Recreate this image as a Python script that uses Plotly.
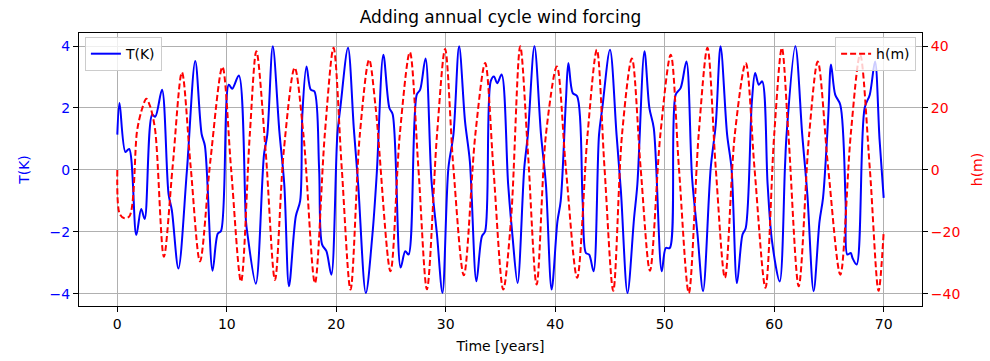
import plotly.graph_objects as go

# Recharge-oscillator run with annual-cycle wind forcing
# Thermocline temperature anomaly T (K)
t_T = [0.0, 0.2, 0.74, 1.08, 1.73, 2.18, 2.5, 3.18, 3.47, 4.08, 4.68, 4.98, 5.58,
       6.35, 7.12, 7.7, 8.0, 8.7, 9.17, 9.48, 10.18, 10.5, 11.1, 11.75, 11.9, 12.65,
       13.4, 13.7, 14.2, 14.8, 15.25, 15.68, 16.3, 16.7, 16.9, 17.28, 17.67, 18.0,
       18.43, 18.7, 19.1, 19.55, 20.1, 20.4, 21.07, 21.6, 22.0, 22.7, 23.3, 23.7,
       24.3, 24.85, 25.15, 25.88, 26.3, 26.6, 27.35, 27.66, 28.15, 28.7, 29.2, 29.7,
       30.24, 30.7, 31.22, 31.76, 32.2, 32.8, 33.3, 33.6, 34.1, 34.4, 34.7, 35.1,
       35.7, 36.1, 36.56, 37.17, 37.5, 38.1, 38.7, 39.15, 39.67, 40.2, 40.5, 40.97,
       41.2, 41.6, 42.0, 42.5, 42.8, 43.1, 43.5, 44.0, 44.3, 45.0, 45.6, 46.0, 46.6,
       47.2, 47.5, 48.15, 48.6, 49.0, 49.73, 50.1, 50.46, 51.0, 51.46, 51.98, 52.5,
       53.0, 53.5, 54.2, 54.66, 55.1, 55.7, 56.1, 56.6, 57.1, 57.4, 57.96, 58.26,
       58.6, 58.9, 59.4, 59.8, 60.5, 60.98, 61.13, 61.93, 62.56, 63.03, 63.6, 64.14,
       64.46, 64.93, 65.19, 65.57, 66.04, 66.52, 66.68, 66.99, 67.15, 67.53, 68.26,
       68.73, 69.21, 69.62, 70.0]
T_vals = [1.14, 2.16, 0.58, 0.68, -2.1, -1.26, -1.58, 1.78, 1.72, 2.59, -0.78, -1.3, -3.18,
          -0.05, 3.52, 1.16, 0.78, -3.25, -2.06, -1.96, 2.75, 2.62, 3.05, -1.66, -2.1, -3.67,
          0.5, 1.14, 3.99, 1.25, -0.47, -3.75, -1.5, -1.0, 1.78, 3.34, 2.59, 2.54,
          0.06, -2.4, -2.62, -3.38, 1.14, 2.1, 3.94, 1.35, -0.47, -3.97, -2.09, -0.1,
          3.72, 2.0, 1.8, -3.15, -2.62, -2.73, 2.43, 2.59, 3.6, -0.37, -2.09, -3.97,
          0.06, 1.14, 3.99, 1.57, 0.28, -3.59, -2.14, -1.98, 2.86, 3.02, 2.8, 3.08,
          -0.47, -2.15, -3.65, 0.06, 1.14, 3.99, 1.14, -0.47, -3.86, -1.66, -1.0, 2.2,
          3.45, 2.48, 2.38, -1.0, -2.68, -2.73, -3.27, 1.14, 2.0, 3.88, 1.14, -0.69, -3.97,
          -1.55, -0.47, 3.83, 2.0, 1.35, -3.27, -2.52, -2.52, 2.43, 2.65, 3.5, -0.26,
          -2.09, -3.91, 0.06, 1.46, 3.99, 1.14, 0.06, -3.65, -2.09, -1.87, 2.2, 3.13,
          2.75, 2.86, -0.47, -2.3, -3.6, 0.06, 1.14, 3.99, 1.14, -0.8, -3.91, -1.66,
          -0.9, 1.68, 3.4, 2.43, 2.1, -1.0, -2.73, -2.68, -2.84, -3.05, 2.0,
          2.43, 3.5, 1.0, -0.9]

# Thermocline depth anomaly h (m)
t_h = [0.0, 0.2, 0.6, 1.1, 1.8, 2.2, 2.65, 3.0, 3.45, 4.25, 5.05, 5.9, 6.7, 7.55,
       8.5, 9.6, 10.4, 11.3, 12.1, 12.7, 13.55, 14.4, 15.2, 16.2, 17.0, 18.05, 18.95,
       19.75, 20.5, 21.3, 22.15, 23.0, 23.6, 24.95, 25.8, 26.72, 27.5, 28.28, 29.2,
       29.94, 30.7, 31.65, 32.7, 33.6, 34.35, 35.25, 35.96, 36.8, 37.5, 38.3, 39.15,
       40.15, 40.97, 42.0, 42.95, 43.8, 44.5, 45.3, 46.1, 47.0, 47.8, 48.65, 49.6,
       50.55, 51.3, 52.2, 53.1, 53.9, 54.66, 55.5, 56.4, 57.4, 58.2, 59.2, 60.0,
       60.7, 61.3, 62.24, 63.19, 63.98, 64.93, 66.04, 66.99, 67.85, 68.73, 69.53, 70.0]
h_vals = [0.0, -14.0, -15.5, -15.0, 12.5, 19.0, 23.0, 20.5, 13.0, -28.0, 1.0, 31.5, 1.0, -29.5,
          3.0, 33.3, 0.0, -36.0, 11.4, 38.3, 6.0, -35.5, 6.0, 33.0, 11.4, -36.5, 11.4,
          39.4, 0.6, -38.6, 11.4, 35.6, 20.0, -32.7, 11.4, 38.0, 0.6, -38.5, 11.4,
          39.0, 0.6, -34.0, 11.4, 34.5, 0.6, -38.6, -16.0, 39.9, 6.0, -37.0, 11.4,
          33.4, 0.6, -34.8, 11.4, 38.8, 0.6, -39.0, 11.4, 36.0, 0.6, -32.5, 11.4,
          37.2, 0.6, -39.7, 11.4, 39.4, 0.6, -34.8, 11.4, 34.5, 0.6, -38.0, 11.4,
          39.4, 11.4, -37.5, 11.4, 35.0, 0.6, -33.8, 11.4, 37.2, 0.6, -39.0, -20.0]

x_ticks = [0, 10, 20, 30, 40, 50, 60, 70]
T_ticks = [-4, -2, 0, 2, 4]
h_ticks = [-40, -20, 0, 20, 40]

FONT = "DejaVu Sans"
BLUE = "#0000ff"
RED = "#ff0000"
TICK_SIZE = 14

fig = go.Figure()
fig.add_trace(go.Scatter(
    x=t_T, y=T_vals, name="T(K)", mode="lines", showlegend=True,
    line=dict(color=BLUE, width=2, shape="spline", smoothing=0.9),
    legend="legend", yaxis="y",
))
fig.add_trace(go.Scatter(
    x=t_h, y=h_vals, name="h(m)", mode="lines", showlegend=True,
    line=dict(color=RED, width=2, dash="6px,3px", shape="spline", smoothing=0.9),
    legend="legend2", yaxis="y2",
))

axis_common = dict(
    ticks="outside", ticklen=5, tickwidth=1, tickcolor="black",
    showline=True, linecolor="black", linewidth=1, zeroline=False,
    automargin=False,
)

fig.update_layout(
    width=990, height=361,
    showlegend=True,
    margin=dict(l=79, r=68, t=33, b=55),
    paper_bgcolor="white", plot_bgcolor="white",
    font=dict(family=FONT, size=TICK_SIZE, color="black"),
    title=dict(text="Adding annual cycle wind forcing", x=0.5, xanchor="center",
               xref="paper", y=0.953, yanchor="middle",
               font=dict(family=FONT, size=17, color="black")),
    xaxis=dict(range=[-3.5, 73.5], tickvals=x_ticks, mirror=True,
               showgrid=True, gridcolor="#b0b0b0", gridwidth=0.8,
               title=dict(text="Time [years]", standoff=10,
                          font=dict(family=FONT, size=TICK_SIZE)),
               tickfont=dict(family=FONT, size=TICK_SIZE, color="black"),
               **axis_common),
    yaxis=dict(range=[-4.39, 4.42], tickvals=T_ticks,
               showgrid=True, gridcolor="#b0b0b0", gridwidth=0.8,
               title=dict(text="T(K)", standoff=16,
                          font=dict(family=FONT, size=TICK_SIZE, color=BLUE)),
               tickfont=dict(family=FONT, size=TICK_SIZE, color=BLUE),
               **axis_common),
    yaxis2=dict(range=[-43.9, 44.2], tickvals=h_ticks, overlaying="y", side="right",
                showgrid=False,
                title=dict(text="h(m)", standoff=12,
                           font=dict(family=FONT, size=TICK_SIZE, color=RED)),
                tickfont=dict(family=FONT, size=TICK_SIZE, color=RED),
                **axis_common),
    legend=dict(x=0.007, y=0.985, xanchor="left", yanchor="top",
                bgcolor="rgba(255,255,255,0.8)", bordercolor="#cccccc", borderwidth=1,
                font=dict(family=FONT, size=TICK_SIZE)),
    legend2=dict(x=0.993, y=0.985, xanchor="right", yanchor="top",
                 bgcolor="rgba(255,255,255,0.8)", bordercolor="#cccccc", borderwidth=1,
                 font=dict(family=FONT, size=TICK_SIZE)),
)

fig.write_html("out.html")
